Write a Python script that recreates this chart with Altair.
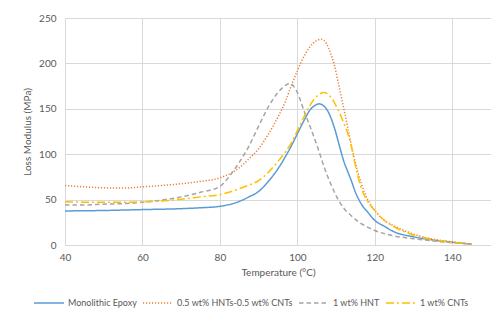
import altair as alt
import pandas as pd

series_names = ["Monolithic Epoxy", "0.5 wt% HNTs-0.5 wt% CNTs", "1 wt% HNT", "1 wt% CNTs"]
colors = ["#5B9BD5", "#ED7D31", "#A5A5A5", "#FFC000"]
dashes = [[1, 0], [1.2, 1.8], [4.5, 3], [8, 3, 2, 3]]

epoxy_t = [40, 50, 60, 70, 75, 80, 85, 87.5, 90, 92.5, 95, 97, 98.3, 100, 101.7, 103.5, 104.5,
           105.6, 106.7, 107.8, 109.5, 111, 112, 113, 114, 115, 116, 117, 118, 120, 122.5, 125,
           130, 135, 140, 145]
epoxy_v = [37.5, 38, 39, 40, 41, 42.6, 48, 53, 59, 70, 84, 98, 108, 122.5, 137, 150, 153.5,
           155.5, 153.5, 148, 130, 107, 92, 81, 70, 58, 49, 42, 37, 27, 20.5, 14.5,
           9, 5.5, 3, 1]

hybrid_t = [40, 45, 50, 55, 60, 65, 70, 75, 80, 85, 87.5, 90, 92.5, 95, 97, 98.3, 100, 102, 104,
            106.2, 107.5, 108.5, 109.5, 110.5, 111.5, 112.5, 113.5, 114.5, 115.5, 116.5, 117.5,
            119, 120, 122.5, 125, 130, 135, 140, 145]
hybrid_v = [65.5, 64, 63, 62.7, 64, 65.5, 67.5, 70, 74, 85, 95, 106, 122, 141, 159, 174, 192,
            210, 222, 226.5, 222, 212, 199, 180, 160, 140, 119, 99, 82, 68, 56,
            44, 38, 27, 21, 12, 6.5, 3.5, 1]

hnt_t = [40, 45, 50, 55, 60, 65, 70, 75, 80, 82.5, 85, 87.5, 90, 92.5, 95, 97, 98, 99, 100,
         101.7, 103.5, 105.2, 106.9, 108.6, 110.4, 112.1, 113.8, 116, 118, 120, 125, 130, 135,
         140, 145]
hnt_v = [44, 44, 45, 45.5, 47, 49.5, 53, 58, 64.6, 76, 91, 109, 131, 152, 168, 176, 178, 175,
         168, 148, 128, 108, 86, 67.5, 51, 40, 32.7, 25, 20, 16, 10, 7, 4.5,
         2.5, 1]

cnt_t = [40, 50, 60, 65, 70, 75, 80, 85, 87.5, 90, 92.5, 95, 97, 98.3, 100, 101.7, 103.5, 105.2,
         106.9, 108.6, 110.4, 112.1, 113.8, 114.7, 116.4, 118, 120, 122.5, 125, 130, 135, 140, 145]
cnt_v = [47.5, 47, 47.5, 48.5, 50.5, 53, 55.5, 62, 66, 71, 80, 92, 103, 111.5, 126, 141, 155.5,
         164.6, 168, 163, 150, 133, 111.5, 93, 64, 49, 38, 27, 20, 11, 6, 3, 1]

x_ticks = [40, 60, 80, 100, 120, 140]
y_ticks = [0, 50, 100, 150, 200, 250]

rows = []
for name, ts, vs in zip(series_names, [epoxy_t, hybrid_t, hnt_t, cnt_t],
                        [epoxy_v, hybrid_v, hnt_v, cnt_v]):
    for t, v in zip(ts, vs):
        rows.append({"series": name, "T": t, "E": v})
df = pd.DataFrame(rows)

FONT = "Lato"
TXT = "#595959"
GRID = "#d9d9d9"

chart = alt.Chart(df).mark_line(strokeWidth=1.5, interpolate="monotone").encode(
    x=alt.X("T:Q", scale=alt.Scale(domain=[40, 150], nice=False, zero=False),
            axis=alt.Axis(values=x_ticks, title="Temperature (°C)", grid=True, ticks=False,
                          domain=True, domainColor=GRID, gridColor=GRID, labelFlush=False,
                          labelColor=TXT, titleColor=TXT, labelFont=FONT, titleFont=FONT,
                          labelFontSize=10, titleFontSize=10, titleFontWeight="normal",
                          labelPadding=7, titlePadding=5)),
    y=alt.Y("E:Q", scale=alt.Scale(domain=[0, 250], nice=False),
            axis=alt.Axis(values=y_ticks, title="Loss Modulus (MPa)", grid=True, ticks=False,
                          domain=False, gridColor=GRID, labelFlush=False,
                          labelColor=TXT, titleColor=TXT, labelFont=FONT, titleFont=FONT,
                          labelFontSize=10, titleFontSize=10, titleFontWeight="normal",
                          labelPadding=9, titlePadding=6)),
    color=alt.Color("series:N", scale=alt.Scale(domain=series_names, range=colors),
                    legend=alt.Legend(title=None, orient="none", legendX=-32, legendY=269,
                                      direction="horizontal", symbolType="stroke",
                                      symbolSize=900, symbolStrokeWidth=1.5, gridAlign="none",
                                      labelFont=FONT, labelFontSize=9, labelColor=TXT,
                                      labelOffset=3, columnPadding=3, labelLimit=300)),
    strokeDash=alt.StrokeDash("series:N", scale=alt.Scale(domain=series_names, range=dashes),
                              legend=None),
).properties(
    width=426, height=227,
    autosize=alt.AutoSizeParams(type="none"),
    padding={"left": 57, "top": 10, "right": 0, "bottom": 66},
).configure_view(strokeWidth=0)

chart.save("out.html", embed_options={"renderer": "svg", "actions": False})
